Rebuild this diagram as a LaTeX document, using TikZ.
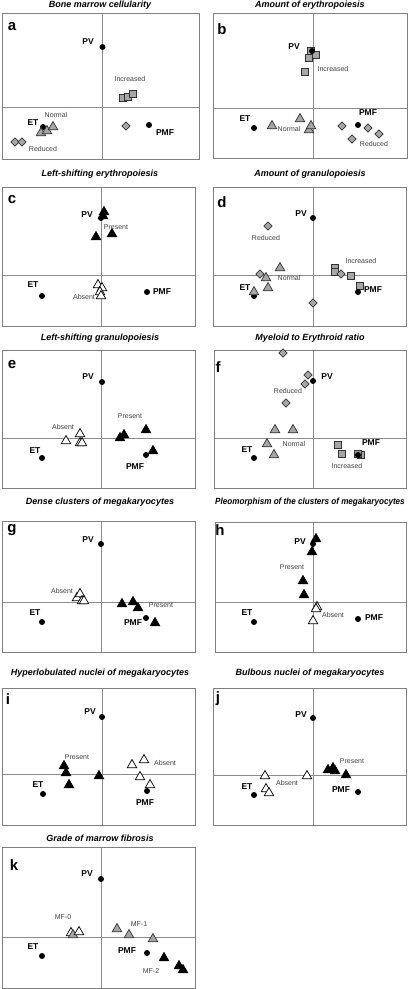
\documentclass[tikz,border=0pt]{standalone}
\usepackage{fontspec}
\setmainfont{Liberation Sans}
\usetikzlibrary{shapes.geometric}
\tikzset{
  frame/.style={draw=black!50, line width=1pt},
  axisln/.style={draw=black!45, line width=0.7pt},
  dot/.style={circle, fill=black, inner sep=0pt, minimum size=6pt},
  tribase/.style={regular polygon, regular polygon sides=3, inner sep=0pt, minimum size=11pt, line width=0.7pt},
  gtri/.style={tribase, fill=black!35, draw=black!80},
  btri/.style={tribase, fill=black, draw=black},
  wtri/.style={tribase, fill=white, draw=black},
  sqm/.style={rectangle, inner sep=0pt, minimum size=7.5pt, fill=black!35, draw=black!80, line width=0.7pt},
  dia/.style={diamond, inner sep=0pt, minimum size=8.5pt, fill=black!35, draw=black!80, line width=0.7pt},
  grp/.style={font=\fontsize{8.5}{8.5}\bfseries, inner sep=0pt},
  cat/.style={font=\fontsize{7}{7}\selectfont, text=black!75, inner sep=0pt},
  ttl/.style={font=\fontsize{9}{9}\bfseries\itshape, inner sep=0pt},
  plet/.style={font=\fontsize{15}{15}\bfseries, inner sep=0pt},
}
\begin{document}
\begin{tikzpicture}[x=1pt, y=-1pt]
\useasboundingbox (0,0) rectangle (409,989);
\fill[white] (0,0) rectangle (409,989);

% ---------------- titles
\node[ttl] (ta) at (100,5.5) {Bone marrow cellularity};
\node[ttl] (tb) at (310,5.5) {Amount of erythropoiesis};
\node[ttl] (tc) at (100,174) {Left-shifting erythropoiesis};
\node[ttl] (td) at (310,174) {Amount of granulopoiesis};
\node[ttl] (te) at (100,338) {Left-shifting granulopoiesis};
\node[ttl] (tf) at (310,338) {Myeloid to Erythroid ratio};
\node[ttl] (tg) at (100,502) {Dense clusters of megakaryocytes};
\node[ttl, xscale=0.9] (th) at (310,502) {Pleomorphism of the clusters of megakaryocytes};
\node[ttl] (ti) at (100,673) {Hyperlobulated nuclei of megakaryocytes};
\node[ttl] (tj) at (310,673) {Bulbous nuclei of megakaryocytes};
\node[ttl] (tk) at (100,838) {Grade of marrow fibrosis};

% ---------------- frames and axes
\draw[axisln] (102,13) -- (102,159);  \draw[axisln] (2,107) -- (199,107);
\draw[frame] (2,13) rectangle (199,159);
\draw[axisln] (313,13) -- (313,158);  \draw[axisln] (213,108) -- (407,108);
\draw[frame] (213,13) rectangle (407,158);
\draw[axisln] (101,187) -- (101,326); \draw[axisln] (2,275) -- (195,275);
\draw[frame] (2,187) rectangle (195,326);
\draw[axisln] (313,187) -- (313,326); \draw[axisln] (213,275) -- (406,275);
\draw[frame] (213,187) rectangle (406,326);
\draw[axisln] (101,350) -- (101,488); \draw[axisln] (2,438) -- (195,438);
\draw[frame] (2,350) rectangle (195,488);
\draw[axisln] (313,350) -- (313,488); \draw[axisln] (214,438) -- (406,438);
\draw[frame] (214,350) rectangle (406,488);
\draw[axisln] (101,521) -- (101,652); \draw[axisln] (2,602) -- (195,602);
\draw[frame] (2,521) rectangle (195,652);
\draw[axisln] (313,522) -- (313,652); \draw[axisln] (215,602) -- (406,602);
\draw[frame] (215,522) rectangle (406,652);
\draw[axisln] (102,688) -- (102,825); \draw[axisln] (2,774) -- (195,774);
\draw[frame] (2,688) rectangle (195,825);
\draw[axisln] (313,688) -- (313,825); \draw[axisln] (213,775) -- (406,775);
\draw[frame] (213,688) rectangle (406,825);
\draw[axisln] (101,847) -- (101,988); \draw[axisln] (2,937) -- (195,937);
\draw[frame] (2,847) rectangle (195,988);

% ---------------- panel letters
\node[plet] (la) at (12,27) {a};
\node[plet] (lb) at (222,29) {b};
\node[plet] (lc) at (12,200) {c};
\node[plet] (ld) at (222,202) {d};
\node[plet] (le) at (12,365) {e};
\node[plet] (lf) at (218,367) {f};
\node[plet] (lg) at (12,530) {g};
\node[plet] (lh) at (220,530) {h};
\node[plet] (li) at (8,699) {i};
\node[plet] (lj) at (218,699) {j};
\node[plet] (lk) at (14,865) {k};

% ================= panel a
\node[sqm] (a1) at (123,98) {};
\node[sqm] (a2) at (128,97) {};
\node[sqm] (a3) at (133,94) {};
\node[cat] (aInc) at (130,79) {Increased};
\node[dot] (aPV) at (102.5,47) {};
\node[grp] (aPVl) at (88,42) {PV};
\node[dot] (aET) at (43,127) {};
\node[gtri] (a4) at (41,133) {};
\node[gtri] (a5) at (47,131) {};
\node[gtri] (a6) at (53,127) {};
\node[grp] (aETl) at (33,123) {ET};
\node[cat] (aNor) at (56,115) {Normal};
\node[dia] (a7) at (15,142) {};
\node[dia] (a8) at (22,142) {};
\node[cat] (aRed) at (43,149) {Reduced};
\node[dia] (a9) at (126,126) {};
\node[dot] (aPMF) at (149,125) {};
\node[grp] (aPMFl) at (165,133) {PMF};

% ================= panel b
\node[sqm] (b1) at (305,72) {};
\node[sqm] (b2) at (309,58) {};
\node[sqm] (b3) at (311,51) {};
\node[sqm] (b4) at (316,55) {};
\node[dot] (bPV) at (312,51) {};
\node[grp] (bPVl) at (294,47) {PV};
\node[cat] (bInc) at (333,69) {Increased};
\node[dot] (bET) at (254,128) {};
\node[grp] (bETl) at (245,119) {ET};
\node[gtri] (b5) at (272,126) {};
\node[gtri] (b6) at (300,119) {};
\node[gtri] (b7) at (309,130) {};
\node[gtri] (b8) at (311,126) {};
\node[cat] (bNor) at (289,129) {Normal};
\node[dot] (bPMF) at (358,125) {};
\node[grp] (bPMFl) at (368,113) {PMF};
\node[dia] (b9) at (342,126) {};
\node[dia] (b10) at (368,128) {};
\node[dia] (b11) at (379,134) {};
\node[dia] (b12) at (352,139) {};
\node[cat] (bRed) at (374,144) {Reduced};

% ================= panel c
\node[dot] (cPV) at (101,218) {};
\node[grp] (cPVl) at (87,215) {PV};
\node[btri] (c1) at (104,212) {};
\node[btri] (c2) at (103,216) {};
\node[btri] (c3) at (96,237) {};
\node[btri] (c4) at (112,234) {};
\node[cat] (cPre) at (116,227) {Present};
\node[dot] (cET) at (42,296) {};
\node[grp] (cETl) at (33,285) {ET};
\node[wtri] (c5) at (98,285) {};
\node[wtri] (c6) at (102,288) {};
\node[wtri] (c7) at (100,292) {};
\node[wtri] (c8) at (101,296) {};
\node[cat] (cAbs) at (84,297) {Absent};
\node[dot] (cPMF) at (147,292) {};
\node[grp] (cPMFl) at (162,292) {PMF};

% ================= panel d
\node[dot] (dPV) at (313,218) {};
\node[grp] (dPVl) at (301,214) {PV};
\node[dia] (d1) at (268,226) {};
\node[cat] (dRed) at (266,238) {Reduced};
\node[gtri] (d2) at (280,268) {};
\node[cat] (dNor) at (289,278) {Normal};
\node[dia] (d3) at (260,274) {};
\node[gtri] (d4) at (266,278) {};
\node[gtri] (d5) at (268,288) {};
\node[dot] (dET) at (254,296) {};
\node[gtri] (d6) at (254,292) {};
\node[grp] (dETl) at (245,288) {ET};
\node[cat] (dInc) at (361,261) {Increased};
\node[sqm] (d7) at (335,268) {};
\node[sqm] (d8) at (335,272) {};
\node[dia] (d9) at (341,274) {};
\node[sqm] (d10) at (351,276) {};
\node[sqm] (d11) at (360,286) {};
\node[dot] (dPMF) at (358,292) {};
\node[grp] (dPMFl) at (373,290) {PMF};
\node[dia] (d12) at (313,303) {};

% ================= panel e
\node[dot] (ePV) at (102,382) {};
\node[grp] (ePVl) at (88,377) {PV};
\node[cat] (ePre) at (130,416) {Present};
\node[cat] (eAbs) at (63,427) {Absent};
\node[wtri] (e1) at (66,441) {};
\node[wtri] (e2) at (80,434) {};
\node[wtri] (e3) at (80,443) {};
\node[wtri] (e4) at (82,443) {};
\node[btri] (e5) at (124,435) {};
\node[btri] (e6) at (120,438) {};
\node[btri] (e7) at (146,430) {};
\node[dot] (ePMF) at (146,455) {};
\node[btri] (e8) at (153,451) {};
\node[grp] (ePMFl) at (135,467) {PMF};
\node[dot] (eET) at (42,458) {};
\node[grp] (eETl) at (35,451) {ET};

% ================= panel f
\node[dia] (f1) at (283,353) {};
\node[dia] (f2) at (308,375) {};
\node[dia] (f3) at (305,384) {};
\node[dia] (f4) at (286,403) {};
\node[dot] (fPV) at (313,381) {};
\node[grp] (fPVl) at (327,377) {PV};
\node[cat] (fRed) at (288,391) {Reduced};
\node[gtri] (f5) at (275,430) {};
\node[gtri] (f6) at (293,430) {};
\node[gtri] (f7) at (267,444) {};
\node[gtri] (f8) at (274,455) {};
\node[cat] (fNor) at (294,444) {Normal};
\node[dot] (fET) at (254,458) {};
\node[grp] (fETl) at (247,450) {ET};
\node[sqm] (f9) at (338,445) {};
\node[sqm] (f10) at (342,454) {};
\node[sqm] (f11) at (361,455) {};
\node[sqm] (f12) at (358,454) {};
\node[dot] (fPMF) at (358,455) {};
\node[grp] (fPMFl) at (371,443) {PMF};
\node[cat] (fInc) at (347,466) {Increased};

% ================= panel g
\node[dot] (gPV) at (101,544) {};
\node[grp] (gPVl) at (88,540) {PV};
\node[cat] (gAbs) at (62,591) {Absent};
\node[wtri] (g1) at (77,598) {};
\node[wtri] (g2) at (80,594) {};
\node[wtri] (g3) at (82,601) {};
\node[wtri] (g4) at (84,601) {};
\node[btri] (g5) at (122,604) {};
\node[btri] (g6) at (133,602) {};
\node[btri] (g7) at (138,608) {};
\node[cat] (gPre) at (161,605) {Present};
\node[dot] (gPMF) at (146,618) {};
\node[btri] (g8) at (155,623) {};
\node[grp] (gPMFl) at (133,623) {PMF};
\node[dot] (gET) at (42,622) {};
\node[grp] (gETl) at (35,613) {ET};

% ================= panel h
\node[dot] (hPV) at (313,544) {};
\node[btri] (h1) at (316,539) {};
\node[btri] (h2) at (312,552) {};
\node[btri] (h3) at (303,581) {};
\node[btri] (h4) at (304,595) {};
\node[grp] (hPVl) at (300,542) {PV};
\node[cat] (hPre) at (292,567) {Present};
\node[wtri] (h5) at (317,607) {};
\node[wtri] (h6) at (316,609) {};
\node[wtri] (h7) at (313,621) {};
\node[cat] (hAbs) at (333,615) {Absent};
\node[dot] (hET) at (254,622) {};
\node[grp] (hETl) at (247,613) {ET};
\node[dot] (hPMF) at (358,619) {};
\node[grp] (hPMFl) at (374,618) {PMF};

% ================= panel i
\node[dot] (iPV) at (102,717) {};
\node[grp] (iPVl) at (90,712) {PV};
\node[cat] (iPre) at (77,757) {Present};
\node[btri] (i1) at (64,766) {};
\node[btri] (i2) at (66,773) {};
\node[btri] (i3) at (69,785) {};
\node[btri] (i4) at (99,776) {};
\node[wtri] (i5) at (132,765) {};
\node[wtri] (i6) at (144,760) {};
\node[wtri] (i7) at (140,777) {};
\node[dot] (iPMF) at (147,791) {};
\node[wtri] (i8) at (150,785) {};
\node[cat] (iAbs) at (165,763) {Absent};
\node[grp] (iPMFl) at (145,803) {PMF};
\node[dot] (iET) at (43,794) {};
\node[grp] (iETl) at (38,785) {ET};

% ================= panel j
\node[dot] (jPV) at (313,718) {};
\node[grp] (jPVl) at (301,715) {PV};
\node[cat] (jPre) at (352,761) {Present};
\node[btri] (j1) at (328,770) {};
\node[btri] (j2) at (333,768) {};
\node[btri] (j3) at (335,771) {};
\node[btri] (j4) at (346,775) {};
\node[wtri] (j5) at (265,776) {};
\node[wtri] (j6) at (307,776) {};
\node[wtri] (j7) at (266,789) {};
\node[wtri] (j8) at (269,793) {};
\node[cat] (jAbs) at (287,783) {Absent};
\node[dot] (jET) at (254,795) {};
\node[grp] (jETl) at (247,787) {ET};
\node[grp] (jPMFl) at (341,790) {PMF};
\node[dot] (jPMF) at (358,792) {};

% ================= panel k
\node[dot] (kPV) at (101,879) {};
\node[grp] (kPVl) at (87,874) {PV};
\node[cat] (kMF0) at (63,917) {MF-0};
\node[wtri] (k1) at (71,933) {};
\node[gtri] (k2) at (73,935) {};
\node[wtri] (k3) at (79,932) {};
\node[gtri] (k4) at (117,929) {};
\node[gtri] (k5) at (129,935) {};
\node[gtri] (k6) at (153,939) {};
\node[cat] (kMF1) at (139,924) {MF-1};
\node[grp] (kPMFl) at (127,951) {PMF};
\node[dot] (kPMF) at (147,953) {};
\node[btri] (k7) at (164,958) {};
\node[btri] (k8) at (179,966) {};
\node[btri] (k9) at (183,970) {};
\node[cat] (kMF2) at (151,971) {MF-2};
\node[dot] (kET) at (42,956) {};
\node[grp] (kETl) at (33,947) {ET};
\end{tikzpicture}
\end{document}
